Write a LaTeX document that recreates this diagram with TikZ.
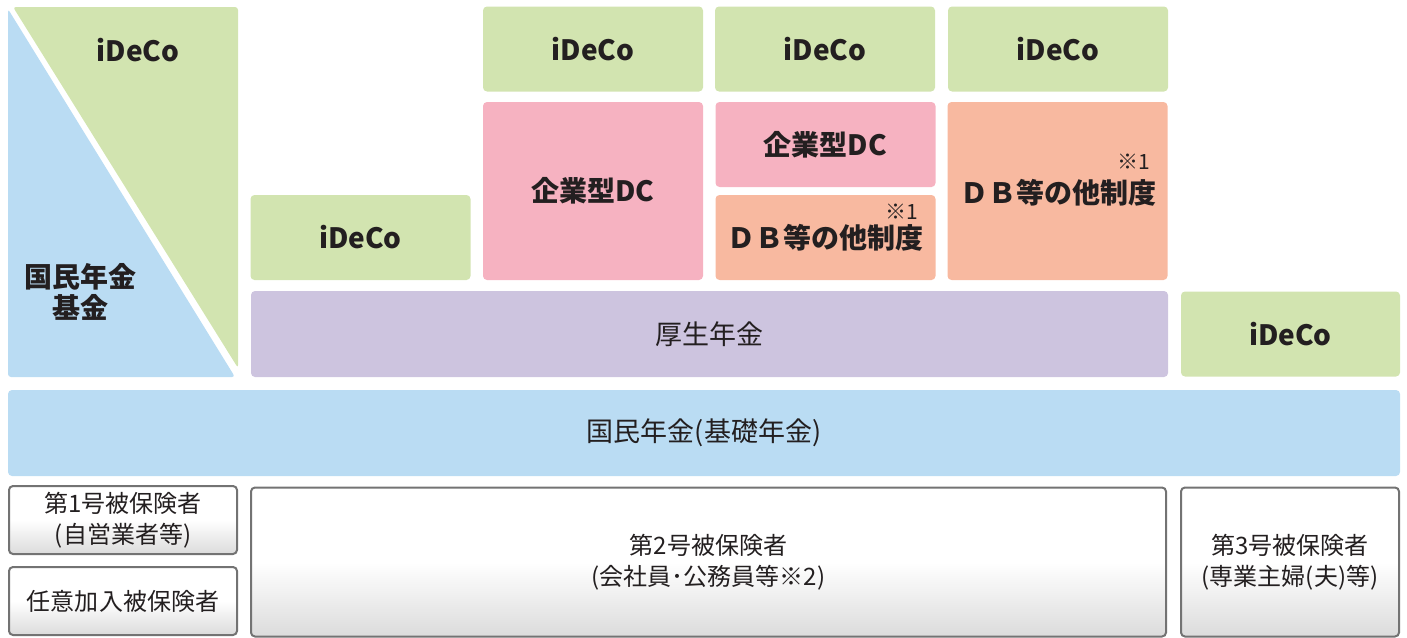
\documentclass[tikz,border=0pt]{standalone}
\usepackage{fontspec}
\setmainfont{Noto Sans CJK JP}
\definecolor{idecogreen}{HTML}{D2E4B0}
\definecolor{kokuminblue}{HTML}{BADCF3}
\definecolor{dcpink}{HTML}{F6B2C1}
\definecolor{dborange}{HTML}{F8B9A0}
\definecolor{koseipurple}{HTML}{CDC4DF}
\definecolor{inkdark}{HTML}{231F20}
\tikzset{
  plan/.style={rounded corners=4pt, inner sep=0pt, text=inkdark, align=center},
  ideco/.style={plan, fill=idecogreen, minimum width=220, minimum height=85, font=\fontsize{28}{32}\selectfont\bfseries},
  dcbox/.style={plan, fill=dcpink, minimum width=220, font=\fontsize{28}{32}\selectfont\bfseries},
  dbbox/.style={plan, fill=dborange, minimum width=220, font=\fontsize{28}{32}\selectfont\bfseries},
  member/.style={plan, draw=black!55, line width=2pt, top color=white, bottom color=black!14, middle color=white,
    font=\fontsize{24}{31}\selectfont},
  note/.style={text=inkdark, inner sep=0pt, font=\fontsize{21}{24}\selectfont}
}
\begin{document}
\begin{tikzpicture}[x=1pt, y=-1pt]
  \useasboundingbox (0,0) rectangle (1407,637);
  % national pension fund block, cut on the diagonal
  \fill[kokuminblue, rounded corners=3pt] (8,9) -- (8,377) -- (235,377) -- cycle;
  \fill[idecogreen, rounded corners=3pt] (13,7) -- (238,7) -- (238,368) -- cycle;
  \node[text=inkdark, font=\fontsize{28}{32}\selectfont\bfseries] (idekikin) at (138,50) {iDeCo};
  \node[text=inkdark, align=center, font=\fontsize{28}{31}\selectfont\bfseries] (kikin) at (80,292) {国民年金\\基金};
  % top row of iDeCo
  \foreach \cx/\nm in {593/ideA, 825/ideB, 1058/ideC}
    {\node[ideco] (\nm) at (\cx,49) {iDeCo};}
  \node[ideco] (ideD) at (360.5,237.5) {iDeCo};
  \node[ideco, minimum width=219] (ideE) at (1290.5,334) {iDeCo};
  % corporate plans
  \node[dcbox, minimum height=178] (dcbig) at (593,191) {企業型DC};
  \node[dcbox, minimum height=85] (dcsmall) at (825.5,144.5) {企業型DC};
  \node[dbbox, minimum height=85] (dbsmall) at (825.5,237.5) {};
  \node[text=inkdark, font=\fontsize{28}{32}\selectfont\bfseries] (dbsmalltxt) at (825,238) {ＤＢ等の他制度};
  \node[note, anchor=east] (dbsmallnote) at (918,212) {※1};
  \node[dbbox, minimum height=178] (dbbig) at (1057.5,191) {};
  \node[text=inkdark, font=\fontsize{28}{32}\selectfont\bfseries] (dbbigtxt) at (1058,193) {ＤＢ等の他制度};
  \node[note, anchor=east] (dbbignote) at (1150,162) {※1};
  % public pensions
  \node[plan, fill=koseipurple, minimum width=917, minimum height=86, font=\fontsize{27}{32}\selectfont] (kosei) at (709.5,334) {厚生年金};
  \node[plan, fill=kokuminblue, minimum width=1392, minimum height=86, font=\fontsize{27}{32}\selectfont] (kiso) at (704,433) {国民年金(基礎年金)};
  % insured persons
  \node[member, minimum width=228, minimum height=68] (dai1) at (123,520) {第1号被保険者\\(自営業者等)};
  \node[member, minimum width=228, minimum height=68] (nini) at (123,601) {任意加入被保険者};
  \node[member, minimum width=915, minimum height=149] (dai2) at (708.5,562) {第2号被保険者\\(会社員･公務員等※2)};
  \node[member, minimum width=218, minimum height=149] (dai3) at (1290,562) {第3号被保険者\\(専業主婦(夫)等)};
\end{tikzpicture}
\end{document}
